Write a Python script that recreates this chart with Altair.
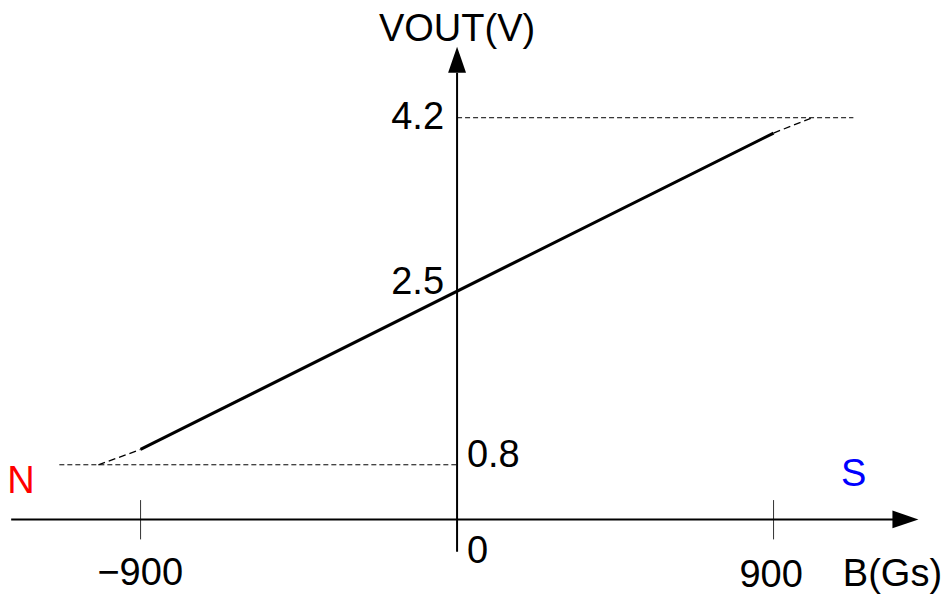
import altair as alt
import pandas as pd

# ---- data (B in Gs, VOUT in V) ----
B_DOMAIN = [-1277, 1379]
V_DOMAIN = [-0.466, 5.275]

# linear region of the transfer curve
lin_B = [-900, 900]
lin_V = [0.95, 4.05]

# dashed extrapolation to the clamp levels
ext_seg = ["left", "left", "right", "right"]
ext_B = [-1020, -900, 900, 1010]
ext_V = [0.8, 0.95, 4.05, 4.2]

# clamp levels (dashed guides)
sat_V = [0.8, 4.2]
sat_B_from = [-1131, 0]
sat_B_to = [0, 1127]

# axes
x_axis_V = 0.265
x_axis_B = [-1268, 1240]
y_axis_B = 0
y_axis_V = [-0.052, 4.64]
arrow_name = ["up", "right"]
arrow_B = [0, 1275]
arrow_V = [4.768, 0.265]

# x ticks
tick_B = [-900, 900]
tick_V_lo = [0.069, 0.069]
tick_V_hi = [0.454, 0.454]

# labels
lbl_center_text = ["VOUT(V)", "\u2212900", "900", "S"]
lbl_center_B = [0, -901, 893, 1128]
lbl_center_V = [4.952, -0.378, -0.395, 0.594]
lbl_center_col = ["black", "black", "black", "#0000ff"]

lbl_right_text = ["4.2", "2.5"]
lbl_right_B = [-37, -37]
lbl_right_V = [4.086, 2.470]

lbl_left_text = ["0.8", "0", "B(Gs)", "N"]
lbl_left_B = [28, 28, 1097, -1279]
lbl_left_V = [0.781, -0.160, -0.388, 0.520]
lbl_left_col = ["black", "black", "black", "#ff0000"]

FONT = "Liberation Sans"
FS = 38

xs = alt.Scale(domain=B_DOMAIN, nice=False, zero=False)
ys = alt.Scale(domain=V_DOMAIN, nice=False, zero=False)


def X(f="B"):
    return alt.X(f"{f}:Q", scale=xs, axis=None)


def Y(f="V"):
    return alt.Y(f"{f}:Q", scale=ys, axis=None)


# axes lines
xaxis_df = pd.DataFrame({"B": [x_axis_B[0]], "B2": [x_axis_B[1]], "V": [x_axis_V]})
xaxis = alt.Chart(xaxis_df).mark_rule(color="black", strokeWidth=2).encode(
    x=X(), x2="B2:Q", y=Y()
)
yaxis_df = pd.DataFrame({"B": [y_axis_B], "V": [y_axis_V[0]], "V2": [y_axis_V[1]]})
yaxis = alt.Chart(yaxis_df).mark_rule(color="black", strokeWidth=2).encode(
    x=X(), y=Y(), y2="V2:Q"
)

arr_df = pd.DataFrame({"name": arrow_name, "B": arrow_B, "V": arrow_V})
up_arrow = alt.Chart(arr_df[arr_df.name == "up"]).mark_point(
    shape="M0,-1L0.69,1L-0.69,1Z", filled=True, color="black", size=676, opacity=1,
    strokeWidth=0,
).encode(x=X(), y=Y())
right_arrow = alt.Chart(arr_df[arr_df.name == "right"]).mark_point(
    shape="M1,0L-1,0.69L-1,-0.69Z", filled=True, color="black", size=676, opacity=1,
    strokeWidth=0,
).encode(x=X(), y=Y())

tick_df = pd.DataFrame({"B": tick_B, "V": tick_V_lo, "V2": tick_V_hi})
ticks = alt.Chart(tick_df).mark_rule(color="#333333", strokeWidth=1).encode(
    x=X(), y=Y(), y2="V2:Q"
)

sat_df = pd.DataFrame({"B": sat_B_from, "B2": sat_B_to, "V": sat_V})
sat = alt.Chart(sat_df).mark_rule(color="black", strokeWidth=1, strokeDash=[5, 3]).encode(
    x=X(), x2="B2:Q", y=Y()
)

ext_df = pd.DataFrame({"seg": ext_seg, "B": ext_B, "V": ext_V})
ext = alt.Chart(ext_df).mark_line(color="black", strokeWidth=1.3, strokeDash=[7, 4]).encode(
    x=X(), y=Y(), detail="seg:N"
)

lin_df = pd.DataFrame({"B": lin_B, "V": lin_V})
lin = alt.Chart(lin_df).mark_line(color="black", strokeWidth=3).encode(x=X(), y=Y())

c_df = pd.DataFrame({"t": lbl_center_text, "B": lbl_center_B, "V": lbl_center_V, "c": lbl_center_col})
t_center = alt.Chart(c_df).mark_text(
    font=FONT, fontSize=FS, align="center", baseline="alphabetic"
).encode(x=X(), y=Y(), text="t:N", color=alt.Color("c:N", scale=None))

r_df = pd.DataFrame({"t": lbl_right_text, "B": lbl_right_B, "V": lbl_right_V})
t_right = alt.Chart(r_df).mark_text(
    font=FONT, fontSize=FS, align="right", baseline="alphabetic", color="black"
).encode(x=X(), y=Y(), text="t:N")

l_df = pd.DataFrame({"t": lbl_left_text, "B": lbl_left_B, "V": lbl_left_V, "c": lbl_left_col})
t_left = alt.Chart(l_df).mark_text(
    font=FONT, fontSize=FS, align="left", baseline="alphabetic"
).encode(x=X(), y=Y(), text="t:N", color=alt.Color("c:N", scale=None))

chart = alt.layer(
    sat, ext, lin, ticks, xaxis, yaxis, up_arrow, right_arrow, t_center, t_right, t_left
).properties(
    width=934, height=586, autosize=alt.AutoSizeParams(type="none"), padding=0,
    background="white",
).configure_view(stroke=None)

chart.save("out.html", embed_options={"renderer": "svg", "actions": False})
